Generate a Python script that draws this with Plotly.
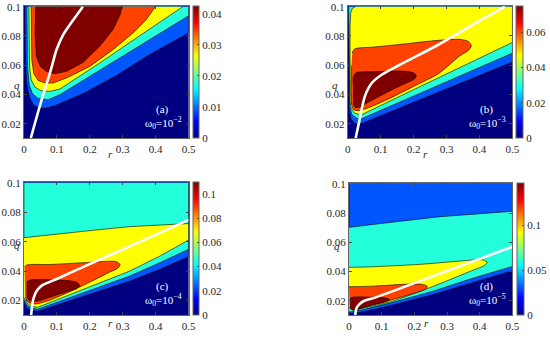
import plotly.graph_objects as go
from plotly.colors import sample_colorscale

# ---------------- data ----------------
# colour-bar maxima and tick values
CMAX = [0.0425, 0.075, 0.11, 0.1467]
CB_TICKS = [[0, 0.01, 0.02, 0.03, 0.04],
            [0, 0.02, 0.04, 0.06],
            [0, 0.02, 0.04, 0.06, 0.08, 0.1],
            [0, 0.05, 0.1]]
# fill level of each region (fraction of colour range): blue, cyan, yellow, orange, dark red
LEVEL_FRAC = [0.21, 0.41, 0.625, 0.81, 1.0]
OMEGA_EXP = ["−2", "−3", "−4", "−5"]
PANEL_TAG = ["(a)", "(b)", "(c)", "(d)"]

X_TICKS = [0, 0.1, 0.2, 0.3, 0.4, 0.5]
Y_TICKS = [0.02, 0.04, 0.06, 0.08, 0.1]

# panel (a): level boundaries (r, q)
A_L1 = [(0.003, 0.100), (0.004, 0.0706), (0.008, 0.0478), (0.016, 0.0387), (0.028, 0.0330),
        (0.043, 0.0309), (0.064, 0.0305), (0.094, 0.0323), (0.179, 0.0405), (0.280, 0.0528),
        (0.381, 0.0672), (0.500, 0.0820)]
A_L2 = [(0.009, 0.100), (0.011, 0.0592), (0.016, 0.0466), (0.026, 0.0405), (0.043, 0.0373),
        (0.074, 0.0364), (0.109, 0.0398), (0.230, 0.0565), (0.346, 0.0722), (0.431, 0.0843),
        (0.500, 0.0938)]
A_L3 = [(0.015, 0.100), (0.017, 0.0592), (0.022, 0.0501), (0.033, 0.0451), (0.053, 0.0425),
        (0.079, 0.0421), (0.109, 0.0437), (0.230, 0.0615), (0.331, 0.0770), (0.411, 0.0893),
        (0.482, 0.100)]
A_L4 = [(0.022, 0.100), (0.024, 0.0637), (0.030, 0.0542), (0.043, 0.0496), (0.064, 0.0478),
        (0.089, 0.0478), (0.129, 0.0512), (0.200, 0.0592), (0.270, 0.0706), (0.331, 0.0820),
        (0.371, 0.0911), (0.399, 0.100)]
A_L5 = [(0.036, 0.100), (0.034, 0.0820), (0.038, 0.0660), (0.050, 0.0592), (0.069, 0.0556),
        (0.094, 0.0542), (0.129, 0.0558), (0.179, 0.0619), (0.230, 0.0729), (0.270, 0.0843),
        (0.292, 0.0945), (0.298, 0.100)]
A_WHITE = [(0.021, 0.0102), (0.050, 0.0334), (0.082, 0.0569), (0.099, 0.0706), (0.119, 0.0808),
           (0.143, 0.0888), (0.179, 0.100)]

# panel (b)
B_L1 = [(0.001, 0.100), (0.002, 0.0592), (0.004, 0.0295), (0.010, 0.0232), (0.020, 0.0204),
        (0.033, 0.0193), (0.179, 0.0327), (0.331, 0.0466), (0.500, 0.0622)]
B_L2 = [(0.003, 0.100), (0.004, 0.0592), (0.006, 0.0318), (0.013, 0.0261), (0.028, 0.0236),
        (0.040, 0.0232), (0.179, 0.0368), (0.331, 0.0517), (0.500, 0.0683)]
B_L3 = [(0.023, 0.100), (0.014, 0.0989), (0.009, 0.0957), (0.007, 0.0866), (0.007, 0.0364),
        (0.010, 0.0307), (0.020, 0.0273), (0.040, 0.0259), (0.179, 0.0410), (0.331, 0.0573),
        (0.500, 0.0756)]
B_O = [(0.014, 0.0683), (0.020, 0.0710), (0.079, 0.0724), (0.179, 0.0747), (0.275, 0.0770),
       (0.341, 0.0776), (0.366, 0.0763), (0.375, 0.0735), (0.366, 0.0701), (0.341, 0.0665),
       (0.275, 0.0542), (0.200, 0.0455), (0.119, 0.0364), (0.058, 0.0305), (0.033, 0.0289),
       (0.018, 0.0296), (0.012, 0.0330), (0.011, 0.0592)]
B_R = [(0.016, 0.0478), (0.018, 0.0528), (0.026, 0.0549), (0.079, 0.0555), (0.159, 0.0560),
       (0.195, 0.0551), (0.208, 0.0532), (0.202, 0.0505), (0.159, 0.0459), (0.099, 0.0391),
       (0.058, 0.0341), (0.036, 0.0313), (0.023, 0.0311), (0.016, 0.0341)]
B_WHITE = [(0.024, 0.0101), (0.037, 0.0238), (0.052, 0.0387), (0.073, 0.0478), (0.103, 0.0535),
           (0.158, 0.0603), (0.275, 0.0740), (0.406, 0.0911), (0.477, 0.100)]

# panel (c)
C_L1 = [(0.000, 0.0189), (0.008, 0.0150), (0.023, 0.0132), (0.042, 0.0127), (0.129, 0.0191),
        (0.230, 0.0268), (0.321, 0.0332), (0.411, 0.0411), (0.500, 0.0498)]
C_L2 = [(0.000, 0.0204), (0.010, 0.0166), (0.025, 0.0148), (0.042, 0.0141), (0.179, 0.0250),
        (0.321, 0.0366), (0.411, 0.0455), (0.500, 0.0548)]
C_L3 = [(0.001, 0.0216), (0.012, 0.0177), (0.026, 0.0161), (0.042, 0.0154), (0.179, 0.0275),
        (0.321, 0.0400), (0.411, 0.0500), (0.500, 0.0611)]
C_T = [(0.500, 0.0723), (0.411, 0.0714), (0.321, 0.0702), (0.230, 0.0682), (0.129, 0.0659),
       (0.028, 0.0636), (0.000, 0.0627)]
C_O = [(0.002, 0.0427), (0.008, 0.0441), (0.079, 0.0445), (0.179, 0.0457), (0.250, 0.0466),
       (0.280, 0.0464), (0.292, 0.0445), (0.285, 0.0420), (0.260, 0.0393), (0.210, 0.0336),
       (0.129, 0.0250), (0.069, 0.0195), (0.034, 0.0177), (0.013, 0.0189), (0.004, 0.0223)]
C_R = [(0.008, 0.0325), (0.018, 0.0339), (0.079, 0.0341), (0.139, 0.0334), (0.161, 0.0323),
       (0.169, 0.0302), (0.159, 0.0280), (0.129, 0.0259), (0.079, 0.0223), (0.038, 0.0195),
       (0.016, 0.0200), (0.008, 0.0234)]
C_WHITE = [(0.022, 0.0102), (0.027, 0.0195), (0.034, 0.0245), (0.042, 0.0275), (0.053, 0.0300),
           (0.069, 0.0318), (0.103, 0.0350), (0.179, 0.0427), (0.321, 0.0568), (0.500, 0.0748)]

# panel (d)
D_L1 = [(0.000, 0.0113), (0.035, 0.0120), (0.126, 0.0166), (0.255, 0.0241), (0.380, 0.0326),
        (0.500, 0.0406)]
D_L2 = [(0.000, 0.0122), (0.035, 0.0134), (0.126, 0.0184), (0.255, 0.0264), (0.380, 0.0355),
        (0.500, 0.0435)]
D_T = [(0.500, 0.0813), (0.380, 0.0794), (0.278, 0.0776), (0.126, 0.0737), (0.000, 0.0703)]
D_Y = [(0.000, 0.0429), (0.075, 0.0433), (0.228, 0.0451), (0.380, 0.0479), (0.411, 0.0479),
       (0.423, 0.0463), (0.413, 0.0440), (0.380, 0.0410), (0.255, 0.0296), (0.126, 0.0193),
       (0.045, 0.0150), (0.014, 0.0134), (0.001, 0.0150)]
D_O = [(0.000, 0.0296), (0.075, 0.0300), (0.184, 0.0314), (0.223, 0.0312), (0.240, 0.0298),
       (0.233, 0.0278), (0.207, 0.0257), (0.126, 0.0204), (0.055, 0.0163), (0.019, 0.0143),
       (0.002, 0.0154)]
D_R = [(0.003, 0.0211), (0.009, 0.0223), (0.075, 0.0223), (0.111, 0.0218), (0.124, 0.0207),
       (0.113, 0.0193), (0.065, 0.0166), (0.029, 0.0143), (0.012, 0.0136), (0.003, 0.0154)]
D_WHITE = [(0.019, 0.0102), (0.023, 0.0150), (0.032, 0.0177), (0.047, 0.0200), (0.082, 0.0223),
           (0.255, 0.0367), (0.500, 0.0570)]

# ---------------- styling ----------------
JET = [[0.0, "rgb(0,0,128)"], [0.125, "rgb(0,0,255)"], [0.375, "rgb(0,255,255)"],
       [0.625, "rgb(255,255,0)"], [0.875, "rgb(255,0,0)"], [1.0, "rgb(128,0,0)"]]
FONT = "Liberation Serif, Times New Roman, serif"
W, H = 550, 342

# pixel boxes of the four plots: (left, right, top, bottom) and colour-bar left/right
BOX = [(24, 189.3, 6, 138.3), (349, 514.3, 6, 138.3),
       (24, 189.3, 182, 315.3), (350.3, 514.3, 183.3, 315.3)]
CBX = [(193.3, 199.5), (517.7, 524.7), (193.3, 199.5), (519, 526)]

TOP = (0.5, 0.1)
TL = (0.0, 0.1)
REGIONS = [
    [(A_L1 + [TOP], 0, False), (A_L2 + [TOP], 1, False), (A_L3, 2, False), (A_L4, 3, False),
     (A_L5, 4, False)],
    [(B_L1 + [TOP], 0, False), (B_L2 + [TOP], 1, False), (B_L3 + [TOP], 2, False),
     (B_O, 3, True), (B_R, 4, True)],
    [([TL] + C_L1 + [TOP], 0, False), ([TL] + C_L2 + [TOP], 1, False), (C_L3 + C_T, 2, False),
     (C_O, 3, True), (C_R, 4, True)],
    [([TL] + D_L1 + [TOP], 0, False), (D_L2 + D_T, 1, False), (D_Y, 2, True),
     (D_O, 3, True), (D_R, 4, True)],
]
WHITES = [A_WHITE, B_WHITE, C_WHITE, D_WHITE]

fig = go.Figure()
ann = []
for i in range(4):
    sfx = "" if i == 0 else str(i + 1)
    xa, ya = "x" + sfx, "y" + sfx
    left, right, top, bottom = BOX[i]
    for pts, lev, smooth in REGIONS[i]:
        col = sample_colorscale(JET, [LEVEL_FRAC[lev]])[0]
        fig.add_trace(go.Scatter(
            x=[p[0] for p in pts], y=[p[1] for p in pts], mode="lines", fill="toself",
            fillcolor=col, line=dict(color="black", width=0.6,
                                     shape="spline" if smooth else "linear", smoothing=0.8),
            xaxis=xa, yaxis=ya, hoverinfo="skip", showlegend=False))
    wl = WHITES[i]
    fig.add_trace(go.Scatter(
        x=[p[0] for p in wl], y=[p[1] for p in wl], mode="lines",
        line=dict(color="white", width=2.6, shape="spline", smoothing=0.8),
        xaxis=xa, yaxis=ya, hoverinfo="skip", showlegend=False))
    # colour bar carrier
    cb_l, cb_r = CBX[i]
    fig.add_trace(go.Scatter(
        x=[0.25, 0.25], y=[0.05, 0.05], mode="markers", xaxis=xa, yaxis=ya,
        marker=dict(size=1, opacity=0, color=[0, CMAX[i]], cmin=0, cmax=CMAX[i],
                    colorscale=JET, showscale=True,
                    colorbar=dict(x=cb_l / W, xanchor="left", y=1 - top / H, yanchor="top",
                                  len=bottom - top, lenmode="pixels",
                                  thickness=cb_r - cb_l, thicknessmode="pixels",
                                  xpad=0, ypad=0, outlinewidth=1, outlinecolor="#666",
                                  tickvals=CB_TICKS[i], ticktext=[f"{v:g}" for v in CB_TICKS[i]],
                                  ticks="inside", ticklen=2, tickcolor="#444",
                                  ticklabeloverflow="allow",
                                  tickfont=dict(family=FONT, size=11, color="#262626"))),
        hoverinfo="skip", showlegend=False))

    axis_common = dict(showgrid=False, zeroline=False, showline=True, linecolor="#666",
                       linewidth=1, mirror="ticks", ticks="inside", ticklen=3, tickcolor="#444",
                       automargin=False, ticklabeloverflow="allow",
                       tickfont=dict(family=FONT, size=11, color="#262626"))
    fig.update_layout(**{
        ("xaxis" + sfx): dict(domain=[left / W, right / W], range=[0, 0.5], anchor=ya,
                              tickvals=X_TICKS, ticktext=[f"{v:g}" for v in X_TICKS],
                              **axis_common),
        ("yaxis" + sfx): dict(domain=[1 - bottom / H, 1 - top / H],
                              range=[0.01, 0.1005], anchor=xa,
                              tickvals=Y_TICKS, ticktext=[f"{v:g}" for v in Y_TICKS],
                              **axis_common),
    })
    # panel labels
    ann.append(dict(x=0.421, y=0.0296, xref=xa, yref=ya, text=PANEL_TAG[i], showarrow=False,
                    font=dict(family=FONT, size=11, color="white")))
    ann.append(dict(x=0.425, y=0.0205, xref=xa, yref=ya,
                    text="ω<sub>0</sub>=10<sup>" + OMEGA_EXP[i] + "</sup>", showarrow=False,
                    font=dict(family=FONT, size=11, color="white")))
    # axis labels
    ann.append(dict(x=((left + right) / 2) / W, y=1 - (bottom + 16) / H, xref="paper",
                    yref="paper", text="<i>r</i>", showarrow=False,
                    font=dict(family=FONT, size=11, color="#262626")))
    ann.append(dict(x=(left - 12.3) / W, y=1 - (top + 0.535 * (bottom - top)) / H, xref="paper",
                    yref="paper", text="<i>q</i>", showarrow=False,
                    font=dict(family=FONT, size=11, color="#262626")))

fig.update_layout(template="none", width=W, height=H, margin=dict(l=0, r=0, t=0, b=0),
                  font=dict(family=FONT, size=11, color="#262626"),
                  paper_bgcolor="white", plot_bgcolor=sample_colorscale(JET, [0.0])[0],
                  annotations=ann, showlegend=False)
fig.write_html("out.html", config={"displayModeBar": False},
               post_script=("document.documentElement.style.overflow='hidden';"
                            "document.body.style.margin='0';"
                            "document.body.style.overflow='hidden';window.scrollTo(0,0);"))
